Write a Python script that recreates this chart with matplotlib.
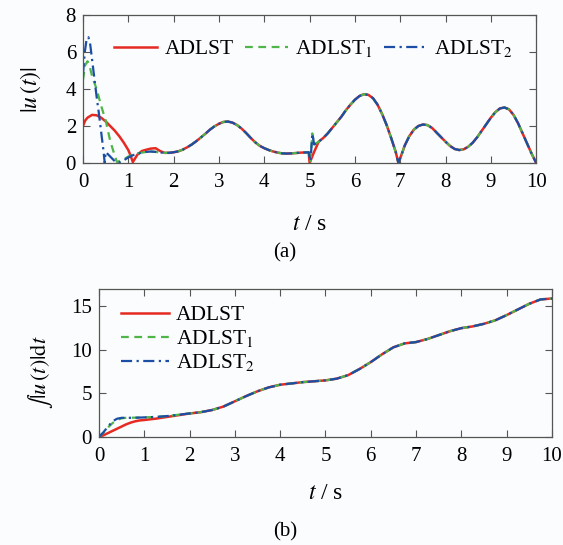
import numpy as np
import matplotlib.pyplot as plt

plt.rcParams['font.family'] = ['Liberation Serif', 'DejaVu Serif']
plt.rcParams['mathtext.fontset'] = 'stix'

# ---- (a) |u(t)| ----
# trecho inicial de cada caso
t_red0 = [0, 0.05, 0.1, 0.2, 0.3, 0.4, 0.5, 0.6, 0.7, 0.8, 0.9, 1.0, 1.05, 1.1,
          1.15, 1.2, 1.3, 1.4, 1.5, 1.6, 1.7]
u_red0 = [2.0, 2.3, 2.45, 2.6, 2.58, 2.45, 2.25, 2.0, 1.75, 1.45, 1.1, 0.7, 0.4, 0.05,
          0.25, 0.45, 0.65, 0.72, 0.78, 0.8, 0.65]
t_grn0 = [0, 0.05, 0.1, 0.15, 0.2, 0.3, 0.4, 0.5, 0.6, 0.7, 0.75, 0.8, 0.9, 1.0,
          1.1, 1.2, 1.3, 1.4, 1.5, 1.6, 1.7]
u_grn0 = [4.5, 5.3, 5.5, 5.2, 4.7, 4.0, 3.1, 2.3, 1.2, 0.4, 0.05, 0.1, 0.2, 0.35,
          0.45, 0.52, 0.56, 0.6, 0.62, 0.6, 0.57]
t_blu0 = [0, 0.04, 0.08, 0.12, 0.16, 0.2, 0.25, 0.3, 0.35, 0.4, 0.45, 0.48, 0.5,
          0.6, 0.7, 0.78, 0.9, 1.0, 1.1, 1.2, 1.3, 1.4, 1.5, 1.6, 1.7]
u_blu0 = [4.8, 6.0, 6.7, 6.8, 6.4, 5.6, 4.6, 3.6, 2.7, 1.7, 0.7, 0.0, 0.6,
          0.35, 0.1, 0.0, 0.15, 0.3, 0.42, 0.5, 0.56, 0.6, 0.62, 0.6, 0.57]

# trecho comum 1.8 - 4.98
t_mid = [1.8, 1.9, 2.0, 2.1, 2.2, 2.3, 2.4, 2.5, 2.6, 2.7, 2.8, 2.9, 3.0, 3.1, 3.2,
         3.3, 3.4, 3.5, 3.6, 3.7, 3.8, 3.9, 4.0, 4.1, 4.2, 4.3, 4.4, 4.5, 4.6, 4.7,
         4.8, 4.9, 4.98]
u_mid = [0.55, 0.55, 0.58, 0.63, 0.72, 0.85, 1.0, 1.18, 1.38, 1.58, 1.8, 1.98, 2.12,
         2.22, 2.24, 2.18, 2.05, 1.86, 1.62, 1.36, 1.12, 0.93, 0.8, 0.7, 0.62, 0.56,
         0.52, 0.51, 0.52, 0.54, 0.56, 0.57, 0.58]

# transitório em t = 5
t_red5 = [5.0, 5.1]
u_red5 = [0.0, 0.6]
t_sw5 = [5.02, 5.06, 5.1]
u_sw5 = [0.1, 1.6, 1.0]

# trecho comum 5.2 - 10
t_end = [5.2, 5.3, 5.4, 5.5, 5.6, 5.7, 5.8, 5.9, 6.0, 6.1, 6.2, 6.3, 6.4, 6.5, 6.6,
         6.7, 6.8, 6.9, 6.96, 7.05, 7.1, 7.2, 7.3, 7.4, 7.5, 7.6, 7.7, 7.8, 7.9, 8.0,
         8.1, 8.2, 8.3, 8.4, 8.5, 8.6, 8.7, 8.8, 8.9, 9.0, 9.1, 9.2, 9.3, 9.4, 9.5,
         9.6, 9.7, 9.8, 9.9, 10.0]
u_end = [1.15, 1.35, 1.6, 1.9, 2.2, 2.5, 2.85, 3.15, 3.42, 3.62, 3.72, 3.68, 3.5,
         3.15, 2.65, 2.05, 1.35, 0.6, 0.0, 0.6, 0.95, 1.45, 1.8, 2.0, 2.08, 2.05, 1.9,
         1.65, 1.4, 1.15, 0.92, 0.76, 0.7, 0.74, 0.88, 1.1, 1.4, 1.75, 2.1, 2.45, 2.75,
         2.95, 3.0, 2.9, 2.6, 2.15, 1.6, 1.05, 0.5, 0.0]

# ---- (b) integral de |u(t)| ----
ti_red0 = [0, 0.1, 0.2, 0.3, 0.4, 0.5, 0.6, 0.7, 0.8, 0.9, 1.0, 1.25, 1.5, 1.75]
I_red0 = [0, 0.2, 0.45, 0.7, 0.95, 1.2, 1.45, 1.65, 1.8, 1.9, 1.95, 2.1, 2.3, 2.5]
ti_grn0 = [0, 0.1, 0.2, 0.3, 0.4, 0.5, 0.6, 0.8, 1.0, 1.25, 1.5, 1.75]
I_grn0 = [0, 0.5, 1.1, 1.6, 1.95, 2.15, 2.2, 2.22, 2.25, 2.3, 2.4, 2.55]
ti_blu0 = [0, 0.1, 0.2, 0.3, 0.4, 0.5, 0.75, 1.0, 1.25, 1.5, 1.75]
I_blu0 = [0, 0.55, 1.2, 1.8, 2.1, 2.2, 2.2, 2.25, 2.3, 2.4, 2.55]
ti_com = [2.0, 2.25, 2.5, 2.75, 3.0, 3.25, 3.5, 3.75, 4.0, 4.25, 4.5, 4.75, 5.0,
          5.25, 5.5, 5.75, 6.0, 6.25, 6.5, 6.75, 7.0, 7.25, 7.5, 7.75, 8.0, 8.25,
          8.5, 8.75, 9.0, 9.25, 9.5, 9.75, 10.0]
I_com = [2.7, 2.85, 3.1, 3.5, 4.1, 4.7, 5.25, 5.7, 6.0, 6.15, 6.3, 6.4, 6.5, 6.7,
         7.1, 7.8, 8.6, 9.5, 10.3, 10.75, 10.9, 11.25, 11.7, 12.15, 12.5, 12.7,
         13.0, 13.4, 14.0, 14.65, 15.3, 15.8, 15.9]

c_red = '#e62a22'
c_grn = '#4fb548'
c_blu = '#1c4ea6'
bg = '#fafcfd'

fig = plt.figure(figsize=(5.63, 5.45), dpi=100, facecolor=bg)
ax1 = fig.add_axes([0.1474, 0.7009, 0.805, 0.2716], facecolor=bg)
ax2 = fig.add_axes([0.1758, 0.1982, 0.8046, 0.2716], facecolor=bg)

for ax in (ax1, ax2):
    for s in ax.spines.values():
        s.set_color('#555555')
        s.set_linewidth(0.9)
    ax.tick_params(direction='in', top=True, right=True, length=5,
                   color='#555555', labelsize=15)
    ax.tick_params(axis='x', pad=7)
    ax.tick_params(axis='y', pad=5)
    ax.set_xlim(0, 10)
    ax.set_xticks(range(0, 11))

# (a)
t_red = t_red0 + t_mid + t_red5 + t_end
u_red = u_red0 + u_mid + u_red5 + u_end
t_grn = t_grn0 + t_mid + t_sw5 + t_end
u_grn = u_grn0 + u_mid + u_sw5 + u_end
t_blu = t_blu0 + t_mid + t_sw5 + t_end
u_blu = u_blu0 + u_mid + u_sw5 + u_end

ax1.plot(t_red, u_red, color=c_red, lw=1.8, label='ADLST')
ax1.plot(t_grn, u_grn, color=c_grn, lw=1.6, ls=(0, (3.5, 2.5)), label='ADLST$_1$')
ax1.plot(t_blu, u_blu, color=c_blu, lw=1.6, ls=(0, (5, 2, 1, 2)), label='ADLST$_2$')
ax1.set_ylim(0, 8)
ax1.set_yticks([0, 2, 4, 6, 8])
ax1.legend(loc='upper left', bbox_to_anchor=(0.05, 0.9), ncol=3, frameon=False,
           fontsize=15.5, handlelength=2.0, handletextpad=0.35, columnspacing=0.5,
           borderaxespad=0)

# (b)
ax2.plot(ti_red0 + ti_com, I_red0 + I_com, color=c_red, lw=1.8, label='ADLST')
ax2.plot(ti_grn0 + ti_com, I_grn0 + I_com, color=c_grn, lw=1.6, ls=(0, (3.5, 2.5)),
         label='ADLST$_1$')
ax2.plot(ti_blu0 + ti_com, I_blu0 + I_com, color=c_blu, lw=1.6, ls=(0, (5, 2, 1, 2)),
         label='ADLST$_2$')
ax2.set_ylim(0, 17)
ax2.set_yticks([0, 5, 10, 15])
ax2.legend(loc='upper left', bbox_to_anchor=(0.03, 0.95), frameon=False,
           fontsize=15.5, handlelength=2.2, handletextpad=0.35, labelspacing=0.15,
           borderaxespad=0)

# rótulos
fig.text(0.055, 0.835, r'$|u\,(t)|$', rotation=90, ha='center', va='center', fontsize=17)
fig.text(0.072, 0.317, r'$\int|u\,(t)|\mathrm{d}t$', rotation=90, ha='center',
         va='center', fontsize=16)
fig.text(0.5497, 0.588, r'$t$ / s', ha='center', va='center', fontsize=17)
fig.text(0.578, 0.094, r'$t$ / s', ha='center', va='center', fontsize=17)
fig.text(0.506, 0.536, '(a)', ha='center', va='center', fontsize=15)
fig.text(0.506, 0.025, '(b)', ha='center', va='center', fontsize=15)

plt.savefig('out.png', dpi=100, facecolor=bg)
